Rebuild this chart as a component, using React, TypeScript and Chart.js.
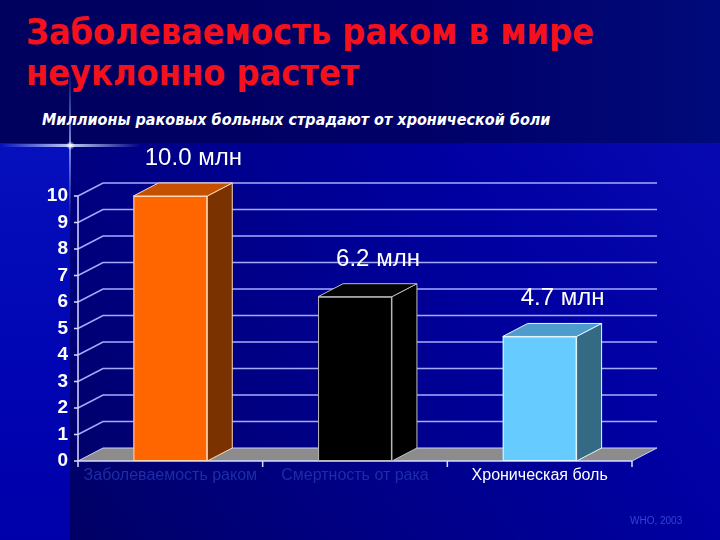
import React, { useEffect, useRef } from 'react';
import { Chart, registerables } from 'chart.js';

Chart.register(...registerables);

// ---- data ----
const categories = ['Заболеваемость раком', 'Смертность от рака', 'Хроническая боль'];
const values = [10.0, 6.2, 4.7];
const valueLabels = ['10.0 млн', '6.2 млн', '4.7 млн'];
const yMin = 0;
const yMax = 10;
const yStep = 1;

// ---- styles ----
const frontColors = ['#ff6600', '#000000', '#66ccff'];
const sideColors = ['#7a3200', '#000000', '#356a84'];
const topColors = ['#c45000', '#050505', '#4d9ccc'];
const edgeColors = ['#ffd9b8', '#bdbdbd', '#e6f6ff'];
const tickLabelColors = ['#1d2ca8', '#1d2ca8', '#ffffff'];

const DX = 25;
const DY = -13;

const depthPlugin = {
  id: 'depth3d',
  beforeDatasetsDraw(chart: any) {
    const { ctx, chartArea: a, scales } = chart;
    const x = scales.x;
    const y = scales.y;
    const y0 = y.getPixelForValue(yMin);
    const yTop = y.getPixelForValue(yMax);
    ctx.save();
    // floor
    ctx.fillStyle = '#8c8c8c';
    ctx.beginPath();
    ctx.moveTo(a.left, y0);
    ctx.lineTo(a.left + DX, y0 + DY);
    ctx.lineTo(a.right + DX, y0 + DY);
    ctx.lineTo(a.right, y0);
    ctx.closePath();
    ctx.fill();
    // grid lines (side wall diagonal + back wall)
    ctx.strokeStyle = '#a6aaff';
    ctx.lineWidth = 1.5;
    y.ticks.forEach((t: any) => {
      if (t.value === yMin) return;
      const py = y.getPixelForValue(t.value);
      ctx.beginPath();
      ctx.moveTo(a.left, py);
      ctx.lineTo(a.left + DX, py + DY);
      ctx.lineTo(a.right + DX, py + DY);
      ctx.stroke();
    });
    // floor edges
    ctx.strokeStyle = '#c9ccff';
    ctx.lineWidth = 1;
    ctx.beginPath();
    ctx.moveTo(a.left, y0);
    ctx.lineTo(a.left + DX, y0 + DY);
    ctx.lineTo(a.right + DX, y0 + DY);
    ctx.lineTo(a.right, y0);
    ctx.stroke();
    // y axis line and ticks
    ctx.strokeStyle = '#d8daff';
    ctx.lineWidth = 1.5;
    ctx.beginPath();
    ctx.moveTo(a.left, yTop);
    ctx.lineTo(a.left, y0);
    y.ticks.forEach((t: any) => {
      const py = y.getPixelForValue(t.value);
      ctx.moveTo(a.left - 4, py);
      ctx.lineTo(a.left, py);
    });
    // x axis line and ticks
    ctx.moveTo(a.left, y0);
    ctx.lineTo(a.right, y0);
    for (let i = 0; i <= categories.length; i++) {
      const px = x.getPixelForValue(i - 0.5);
      ctx.moveTo(px, y0);
      ctx.lineTo(px, y0 + 6);
    }
    ctx.stroke();
    ctx.restore();
  },
  afterDatasetsDraw(chart: any) {
    const { ctx } = chart;
    const meta = chart.getDatasetMeta(0);
    ctx.save();
    meta.data.forEach((bar: any, i: number) => {
      const p = bar.getProps(['x', 'y', 'base', 'width'], true);
      const l = p.x - p.width / 2;
      const r = p.x + p.width / 2;
      const top = p.y;
      const base = p.base;
      ctx.lineWidth = 1;
      ctx.strokeStyle = edgeColors[i];
      // side face
      ctx.fillStyle = sideColors[i];
      ctx.beginPath();
      ctx.moveTo(r, top);
      ctx.lineTo(r + DX, top + DY);
      ctx.lineTo(r + DX, base + DY);
      ctx.lineTo(r, base);
      ctx.closePath();
      ctx.fill();
      ctx.stroke();
      // top face
      ctx.fillStyle = topColors[i];
      ctx.beginPath();
      ctx.moveTo(l, top);
      ctx.lineTo(l + DX, top + DY);
      ctx.lineTo(r + DX, top + DY);
      ctx.lineTo(r, top);
      ctx.closePath();
      ctx.fill();
      ctx.stroke();
      // front edge
      ctx.strokeRect(l + 0.5, top + 0.5, p.width - 1, base - top - 1);
      // value label
      ctx.fillStyle = '#ffffff';
      ctx.font = '24px Arial, "Liberation Sans", sans-serif';
      ctx.textAlign = 'center';
      ctx.textBaseline = 'alphabetic';
      ctx.fillText(valueLabels[i], p.x + 23, top + DY - 18);
    });
    ctx.restore();
  },
};

export default function App() {
  const canvasRef = useRef<HTMLCanvasElement | null>(null);

  useEffect(() => {
    document.body.style.margin = '0';
    const canvas = canvasRef.current;
    if (!canvas) return;
    const chart = new Chart(canvas, {
      type: 'bar',
      data: {
        labels: categories,
        datasets: [
          {
            data: values,
            backgroundColor: frontColors,
            borderWidth: 0,
            barPercentage: 0.4,
            categoryPercentage: 1,
          },
        ],
      },
      options: {
        responsive: false,
        animation: false,
        layout: { padding: { top: 196, right: 88, left: 0, bottom: 0 } },
        plugins: {
          legend: { display: false },
          tooltip: { enabled: false },
        },
        scales: {
          x: {
            grid: { display: false, drawTicks: false },
            border: { display: false },
            ticks: {
              color: tickLabelColors,
              font: { family: 'Arial, "Liberation Sans", sans-serif', size: 16 },
              padding: 5,
              maxRotation: 0,
              autoSkip: false,
            },
            afterFit: (s: any) => {
              s.height = 79;
            },
          },
          y: {
            min: yMin,
            max: yMax,
            grid: { display: false, drawTicks: false },
            border: { display: false },
            ticks: {
              stepSize: yStep,
              autoSkip: false,
              color: '#ffffff',
              font: { family: 'Arial, "Liberation Sans", sans-serif', size: 19, weight: 'bold' },
              padding: 10,
            },
            afterFit: (s: any) => {
              s.width = 78;
            },
          },
        },
      },
      plugins: [depthPlugin],
    });
    return () => chart.destroy();
  }, []);

  return (
    <div
      style={{
        position: 'relative',
        width: 720,
        height: 540,
        overflow: 'hidden',
        background: 'linear-gradient(235deg, #0a0cb6 0%, #0000a2 35%, #000080 70%, #00005e 100%)',
      }}
    >
      {/* top band */}
      <div
        style={{
          position: 'absolute',
          left: 0,
          top: 0,
          width: 720,
          height: 143,
          background: 'linear-gradient(to right, #00005e 0%, #000068 60%, #000a7a 100%)',
        }}
      />
      {/* left strip */}
      <div
        style={{
          position: 'absolute',
          left: 0,
          top: 143,
          width: 70,
          height: 397,
          background: 'linear-gradient(to bottom, #0610bc 0%, #0004b2 60%, #0000aa 100%)',
        }}
      />
      {/* glint */}
      <div
        style={{
          position: 'absolute',
          left: 69,
          top: 70,
          width: 2,
          height: 150,
          background: 'linear-gradient(to bottom, rgba(120,150,255,0) 0%, rgba(150,180,255,0.8) 50%, rgba(120,150,255,0) 100%)',
        }}
      />
      <div
        style={{
          position: 'absolute',
          left: 0,
          top: 144,
          width: 140,
          height: 3,
          background: 'linear-gradient(to right, rgba(120,150,255,0) 0%, rgba(200,215,255,0.95) 50%, rgba(120,150,255,0) 100%)',
        }}
      />
      <div
        style={{
          position: 'absolute',
          left: 66,
          top: 141,
          width: 9,
          height: 9,
          borderRadius: '50%',
          background: 'radial-gradient(circle, rgba(255,255,255,1) 0%, rgba(255,255,255,0) 70%)',
        }}
      />
      {/* title */}
      <div
        style={{
          position: 'absolute',
          left: 26,
          top: 12,
          color: '#f4111c',
          fontFamily: '"DejaVu Sans", Verdana, sans-serif',
          fontWeight: 'bold',
          fontSize: 35,
          lineHeight: '41px',
          whiteSpace: 'nowrap',
          transform: 'scaleX(0.92)',
          transformOrigin: 'left top',
        }}
      >
        Заболеваемость раком в мире
        <br />
        неуклонно растет
      </div>
      {/* subtitle */}
      <div
        style={{
          position: 'absolute',
          left: 42,
          top: 111,
          color: '#ffffff',
          fontFamily: '"DejaVu Sans", Verdana, sans-serif',
          fontWeight: 'bold',
          fontStyle: 'italic',
          fontSize: 15,
          lineHeight: '18px',
          whiteSpace: 'nowrap',
          transform: 'scaleX(0.96)',
          transformOrigin: 'left top',
        }}
      >
        Миллионы раковых больных страдают от хронической боли
      </div>
      <canvas
        ref={canvasRef}
        width={720}
        height={540}
        style={{ position: 'absolute', left: 0, top: 0, width: 720, height: 540 }}
      />
      {/* source */}
      <div
        style={{
          position: 'absolute',
          left: 630,
          top: 515,
          color: '#3444d0',
          fontFamily: 'Arial, "Liberation Sans", sans-serif',
          fontSize: 10,
          whiteSpace: 'nowrap',
        }}
      >
        WHO, 2003
      </div>
    </div>
  );
}
